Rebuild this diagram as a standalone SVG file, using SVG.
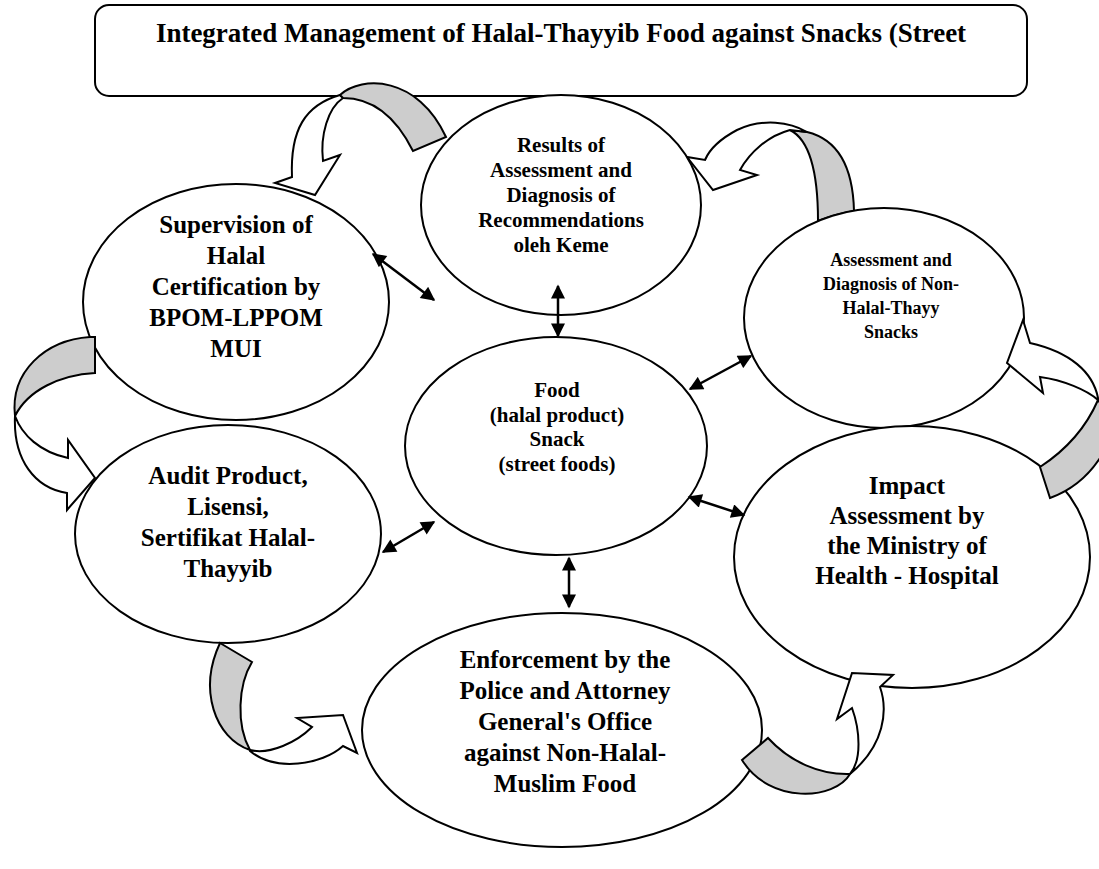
<svg xmlns="http://www.w3.org/2000/svg" width="1099" height="869" viewBox="0 0 1099 869">
<defs>
<style>
.box{fill:#fff;stroke:#000;stroke-width:2}
.el{fill:#fff;stroke:#000;stroke-width:2}
.g{fill:#cdcdcd;stroke:#000;stroke-width:2;stroke-linejoin:miter}
.w{fill:#fff;stroke:#000;stroke-width:2;stroke-linejoin:miter}
.t{font-family:"Liberation Serif","Times New Roman",serif;font-weight:bold;text-anchor:middle;fill:#000}
.s18{font-size:18px}.s21{font-size:21px}.s25{font-size:25px}.s27{font-size:27px}
.c{stroke:#000;stroke-width:2.5;fill:none;marker-start:url(#ah);marker-end:url(#ah)}
</style>
<marker id="ah" viewBox="0 0 10 10" refX="9" refY="5" markerUnits="userSpaceOnUse" markerWidth="15" markerHeight="14" orient="auto-start-reverse">
<path d="M0,0 L10,5 L0,10 Z" fill="#000"/>
</marker>
</defs>
<rect width="1099" height="869" fill="#fff"/>
<g id="title">
<rect class="box" x="95" y="5" width="932" height="91" rx="14"/>
<text class="t s27" x="561" y="42">Integrated Management of Halal-Thayyib Food against Snacks (Street</text>
</g>
<g id="arrow-B">
<path class="g" d="M790,130 C810,140 818,175 818,221 Q836,214 854,211 C853,170 840,140 807,132 Z"/>
<path class="w" d="M807,132 C790,122 763,118 737,130 C722,138 710,148 705,160 L687,157 L713,190 L757,175 L740,170 C750,152 768,136 790,130 Z"/>
</g>
<g id="node-results">
<ellipse class="el" cx="561" cy="205" rx="140" ry="110"/>
<text class="t s21" x="561" y="152">Results of</text>
<text class="t s21" x="561" y="177">Assessment and</text>
<text class="t s21" x="561" y="202">Diagnosis of</text>
<text class="t s21" x="561" y="227">Recommendations</text>
<text class="t s21" x="561" y="252">oleh Keme</text>
</g>
<g id="node-supervision">
<ellipse class="el" cx="236" cy="302" rx="153" ry="118"/>
<text class="t s25" x="236" y="233">Supervision of</text>
<text class="t s25" x="236" y="264">Halal</text>
<text class="t s25" x="236" y="295">Certification by</text>
<text class="t s25" x="236" y="326">BPOM-LPPOM</text>
<text class="t s25" x="236" y="357">MUI</text>
</g>
<g id="node-food">
<ellipse class="el" cx="556" cy="446" rx="151" ry="109"/>
<text class="t s21" x="557" y="397">Food</text>
<text class="t s21" x="557" y="422">(halal product)</text>
<text class="t s21" x="557" y="446">Snack</text>
<text class="t s21" x="557" y="471">(street foods)</text>
</g>
<g id="node-assessment">
<ellipse class="el" cx="884" cy="318" rx="140" ry="110"/>
<text class="t s18" x="891" y="266">Assessment and</text>
<text class="t s18" x="891" y="290">Diagnosis of Non-</text>
<text class="t s18" x="891" y="314">Halal-Thayy</text>
<text class="t s18" x="891" y="338">Snacks</text>
</g>
<g id="node-impact">
<ellipse class="el" cx="912" cy="557" rx="178" ry="131"/>
<text class="t s25" x="907" y="494">Impact</text>
<text class="t s25" x="907" y="524">Assessment by</text>
<text class="t s25" x="907" y="554">the Ministry of</text>
<text class="t s25" x="907" y="584">Health - Hospital</text>
</g>
<g id="node-audit">
<ellipse class="el" cx="228" cy="534" rx="153" ry="109"/>
<text class="t s25" x="228" y="484">Audit Product,</text>
<text class="t s25" x="228" y="515">Lisensi,</text>
<text class="t s25" x="228" y="546">Sertifikat Halal-</text>
<text class="t s25" x="228" y="577">Thayyib</text>
</g>
<g id="node-enforcement">
<ellipse class="el" cx="562" cy="730" rx="200" ry="117"/>
<text class="t s25" x="565" y="668">Enforcement by the</text>
<text class="t s25" x="565" y="699">Police and Attorney</text>
<text class="t s25" x="565" y="730">General's Office</text>
<text class="t s25" x="565" y="761">against Non-Halal-</text>
<text class="t s25" x="565" y="792">Muslim Food</text>
</g>
<g id="cycle-arrows">
<path class="w" d="M340,95 C305,105 290,130 292,177 L275,183 L315,195 L340,155 L323,161 C320,135 328,108 343,98 Z"/>
<path class="g" d="M340,95 C362,75 418,76 446,137 L413,151 C395,115 372,98 343,98 Z"/>
<path class="g" d="M95,337 L95,373 C60,375 28,390 15,416 C10,372 45,340 90,337 Z"/>
<path class="w" d="M15,416 C13,460 35,488 67,493 L67,510 L95,478 L68,440 L68,458 C40,452 22,435 15,416 Z"/>
<path class="g" d="M220,643 L252,662 C238,685 236,725 250,750 C215,738 198,690 220,643 Z"/>
<path class="w" d="M250,750 C270,755 297,742 312,727 L297,718 L343,715 L357,753 L343,746 C322,765 275,772 250,751 Z"/>
<path class="g" d="M742,760 L768,738 C790,762 820,775 850,774 C835,800 770,805 742,760 Z"/>
<path class="w" d="M850,774 C862,760 860,730 852,708 L837,719 L852,673 L893,675 L880,687 C888,710 885,745 850,774 Z"/>
<path class="g" d="M1098,400 C1085,430 1063,452 1040,467 L1050,498 C1078,488 1098,466 1110,440 C1112,425 1105,410 1098,400 Z"/>
<path class="w" d="M1098,398 C1093,372 1070,352 1030,343 L1023,320 L1007,363 L1043,393 L1040,377 C1063,380 1087,390 1098,400 Z"/>
</g>
<g id="connectors">
<line class="c" x1="558" y1="286" x2="558" y2="336"/>
<line class="c" x1="373" y1="254" x2="434" y2="300"/>
<line class="c" x1="690" y1="389" x2="751" y2="356"/>
<line class="c" x1="689" y1="497" x2="744" y2="515"/>
<line class="c" x1="383" y1="552" x2="434" y2="522"/>
<line class="c" x1="569" y1="558" x2="569" y2="607"/>
</g>
</svg>
